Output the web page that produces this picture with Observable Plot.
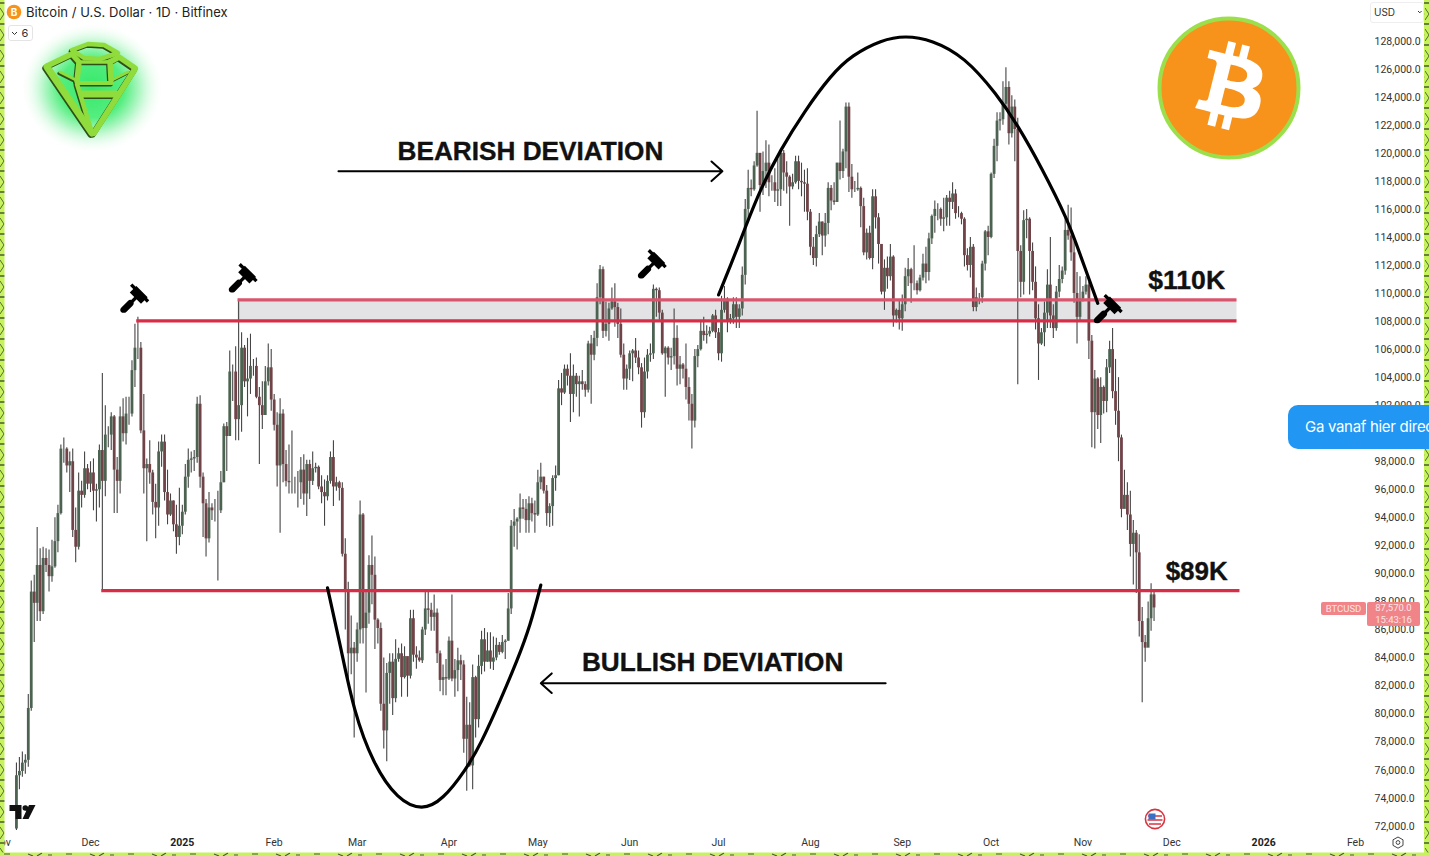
<!DOCTYPE html>
<html>
<head>
<meta charset="utf-8">
<script src="https://cdn.jsdelivr.net/npm/d3@7"></script>
<script src="https://cdn.jsdelivr.net/npm/@observablehq/plot@0.6"></script>
<style>
html,body{margin:0;padding:0;background:#fff;overflow:hidden}
#stage{position:relative;width:1429px;height:856px;overflow:hidden;font-family:Inter,"Liberation Sans",sans-serif}
#stage>*{position:absolute}
#chart{left:0;top:0}
#decor{left:0;top:0;pointer-events:none}
.hdr{left:26px;top:4px;font:13px/16px Inter,sans-serif;color:#222;white-space:nowrap;letter-spacing:.03px}
.pill{left:8px;top:25px;width:25px;height:16px;border:1px solid #e4e4e4;border-radius:3px;box-sizing:border-box;font:11px/14px Inter,sans-serif;color:#333;text-align:center}
.usd{left:1370px;top:2px;width:54px;height:21px;border:1px solid #eee;border-radius:3px;box-sizing:border-box;font:10px/19px Inter,sans-serif;color:#333;padding-left:3px}
.bubble{left:1288px;top:405px;width:150px;height:44px;background:#2196f3;border-radius:10px;color:#fff;font:15px/44px Inter,sans-serif;letter-spacing:-.3px;padding-left:17px;box-sizing:border-box;white-space:nowrap;overflow:hidden}
.tag{background:#f08489;color:#fde4e4;font:9.5px/12px Roboto,sans-serif;text-align:center;border-radius:2px}
</style>
</head>
<body>
<div id="stage">
<div id="chart"></div>
<svg id="decor" width="1429" height="856" viewBox="0 0 1429 856">
<defs>
<pattern id="bv" width="5" height="42" patternUnits="userSpaceOnUse">
<rect width="5" height="42" fill="#c6f25e"/>
<path d="M0 3h5M0 24h5" stroke="#4a5a2a" stroke-width="1.4"/>
<path d="M0 8l4 6-4 6M0 29l4 6-4 6" stroke="#4a5a2a" stroke-width=".9" fill="none"/>
</pattern>
<pattern id="bh" width="62" height="4" patternUnits="userSpaceOnUse">
<rect width="62" height="4" fill="#c6f25e"/>
<path d="M4 2h6M28 2l5 2M37 4l5-3M48 3h4" stroke="#4a5a2a" stroke-width="1.1"/>
</pattern>
<radialGradient id="glow">
<stop offset="0" stop-color="#35e86a"/>
<stop offset=".45" stop-color="#55ee80"/>
<stop offset=".7" stop-color="#c0f8d0"/>
<stop offset="1" stop-color="#ffffff" stop-opacity="0"/>
</radialGradient>
<g id="gem" fill="none" stroke-linejoin="round" stroke-linecap="round">
<path d="M72 50L88 44L104 45L118 53L100 59L84 58Z" stroke-width="4.5"/>
<path d="M47 66L72 54L79 62L77 81" stroke-width="5.5"/>
<path d="M135 68L119 57L110 62L111 80" stroke-width="5.5"/>
<path d="M79 62H108" stroke-width="3.5"/>
<path d="M77 83H112" stroke-width="4"/>
<path d="M47 67L92 133" stroke-width="7"/>
<path d="M77 84L92 133" stroke-width="4.5"/>
<path d="M135 69L94 133" stroke-width="6"/>
<path d="M82 94H116" stroke-width="7"/>
<path d="M60 72L76 80M112 80L128 72" stroke-width="3"/>
</g>
</defs>
<rect x="0" y="0" width="4.5" height="856" fill="url(#bv)"/>
<rect x="1424" y="0" width="5" height="856" fill="url(#bv)"/>
<rect x="0" y="852.5" width="1429" height="3.5" fill="url(#bh)"/>

<!-- coin in header -->
<circle cx="14" cy="12" r="7.3" fill="#f7931a"/>
<text x="14" y="15.5" fill="#fff" font-size="10" font-weight="700" text-anchor="middle" font-family="Inter">B</text>

<!-- diamond -->
<ellipse cx="92" cy="88" rx="72" ry="66" fill="url(#glow)"/>
<use href="#gem" stroke="#2f4f18" transform="translate(-1.2 1.4)"/>
<use href="#gem" stroke="#8fdc3c"/>

<!-- bitcoin logo -->
<circle cx="1229" cy="88" r="69.5" fill="#f7931a" stroke="#9be04c" stroke-width="4"/>
<g transform="translate(1229 88) scale(2.2) translate(-31 -32.5)">
<path fill="#fff" d="M46.11 27.441c.636-4.258-2.606-6.547-7.039-8.074l1.438-5.768-3.512-.875-1.4 5.616c-.922-.23-1.87-.447-2.812-.662l1.41-5.653-3.509-.875-1.439 5.766c-.764-.174-1.514-.346-2.242-.527l.004-.018-4.842-1.209-.934 3.75s2.605.597 2.55.634c1.422.355 1.68 1.296 1.636 2.042l-1.638 6.571c.098.025.225.061.365.117l-.371-.092-2.296 9.205c-.174.432-.615 1.08-1.609.834.035.051-2.552-.637-2.552-.637l-1.743 4.02 4.57 1.139c.85.213 1.683.436 2.502.646l-1.453 5.835 3.507.875 1.44-5.772c.957.26 1.887.5 2.797.726L27.504 50.8l3.511.875 1.453-5.823c5.987 1.133 10.49.676 12.383-4.738 1.527-4.36-.075-6.875-3.225-8.516 2.294-.531 4.022-2.04 4.483-5.157zM38.087 38.69c-1.086 4.36-8.426 2.004-10.807 1.412l1.928-7.729c2.38.594 10.011 1.77 8.88 6.317zm1.085-11.312c-.99 3.966-7.1 1.951-9.083 1.457l1.748-7.01c1.983.494 8.367 1.416 7.335 5.553z"/>
</g>

<!-- TradingView mark -->
<path d="M9.5 805H21.5V819H15.5V811H9.5Z M28.1 808a2.8 2.8 0 1 1-5.6 0a2.8 2.8 0 1 1 5.6 0Z M29 805H35.5L28.5 819H22.5Z" fill="#111"/>

<!-- flag -->
<circle cx="1155" cy="819" r="9.6" fill="#fff" stroke="#d8343f" stroke-width="1.6"/>
<path d="M1148 816h14M1147.5 820h15M1149 824h12" stroke="#d8343f" stroke-width="1.7"/>
<rect x="1148.5" y="813.5" width="7" height="6" fill="#3a6fc4"/>

<!-- settings -->
<path d="M1398 837l5 2.8v5.6l-5 2.8-5-2.8v-5.6Z" fill="none" stroke="#444" stroke-width="1"/>
<circle cx="1398" cy="842.5" r="1.9" fill="none" stroke="#444" stroke-width="1"/>

<!-- chevrons of the pill and USD box -->
<path d="M12 32l2.5 2.5L17 32" fill="none" stroke="#333" stroke-width="1"/>
<path d="M1418 11l1.8 1.8 1.8-1.8" fill="none" stroke="#333" stroke-width="1"/>
</svg>
<div class="hdr">Bitcoin / U.S. Dollar · 1D · Bitfinex</div>
<div class="pill"><span style="padding-left:9px">6</span></div>
<div class="usd">USD</div>
<div class="bubble">Ga vanaf hier direct</div>
<div class="tag" style="left:1321px;top:602px;width:45px;height:13px;line-height:13px">BTCUSD</div>
<div class="tag" style="left:1367px;top:602px;width:53px;height:24px;line-height:12px">87,570.0<br>15:43:16</div>
</div>
<script>
// Daily candles, in thousands of USD, one value per day from 6 Nov 2024 to 25 Nov 2025.
const firstDay = new Date(Date.UTC(2024, 10, 6));
const firstOpen = 71.8;
const closes = [
75.6,75.9,76.5,76.7,80.4,88.7,87.9,90.6,87.3,91.1,90.6,89.8,90.5,92.3,94.3,98.9,98.9,97.7,98.0,93.1,91.9,95.9,95.6,97.5,96.4,
97.2,95.9,96.0,98.8,96.6,99.9,99.9,101.2,97.4,96.6,101.2,100.0,101.4,101.4,104.5,106.1,106.1,100.2,97.5,97.8,97.2,95.1,94.7,98.7,99.4,95.8,94.2,95.2,93.5,92.6,93.4,
94.4,96.9,98.1,98.2,98.3,102.1,96.9,95.0,92.5,94.7,94.5,94.5,94.5,96.5,100.5,99.8,104.4,104.4,101.0,102.0,106.1,103.7,103.9,104.8,104.8,102.6,102.0,101.3,103.7,104.7,102.4,
100.6,97.7,101.4,97.8,96.6,96.5,96.5,96.5,96.5,97.4,95.7,97.8,96.6,97.5,97.6,96.2,95.8,95.5,96.6,98.3,96.2,96.5,96.1,91.4,88.7,84.3,84.7,84.3,
86.0,94.2,86.1,87.2,90.6,89.9,86.7,86.1,80.7,78.8,82.9,83.7,81.1,83.9,84.3,82.6,84.1,82.7,86.8,84.2,84.0,83.8,86.0,87.5,87.4,86.9,87.2,84.3,82.4,82.6,82.5,
85.2,82.5,83.1,83.8,83.5,78.2,79.2,76.3,82.6,79.6,83.4,85.3,83.7,84.5,83.7,84.0,84.9,84.4,85.1,85.2,87.5,93.4,93.7,93.9,94.7,94.6,93.8,95.0,94.3,94.2,
96.5,96.9,95.9,94.3,94.8,96.8,97.0,103.2,102.9,104.6,104.1,102.8,104.1,103.5,103.7,103.5,103.1,106.4,105.6,106.8,109.7,111.7,107.3,107.8,108.9,109.4,109.0,107.8,105.6,103.9,104.6,
105.7,105.9,105.4,104.7,101.5,104.4,105.6,105.7,110.3,110.2,108.6,105.7,106.1,105.4,105.5,106.8,104.6,104.9,104.6,103.3,102.1,100.9,105.5,106.0,107.3,107.0,107.1,107.3,108.4,107.2,
105.7,108.8,109.6,108.0,108.2,109.2,108.3,108.9,111.3,116.0,117.5,117.4,119.1,120.0,117.7,118.7,119.3,117.9,117.9,117.3,117.4,120.0,118.6,118.3,117.6,117.9,119.4,118.0,117.9,117.8,115.8,
113.3,112.5,114.2,115.1,114.1,115.0,117.5,116.6,116.5,119.3,118.7,120.1,123.3,118.3,117.4,117.4,117.5,116.2,112.9,114.3,112.5,116.9,115.4,113.5,110.1,111.8,111.2,112.6,108.4,108.8,108.2,
109.2,111.2,111.7,110.7,110.7,110.2,111.1,112.1,111.5,113.9,115.5,116.0,116.0,115.3,115.4,116.8,116.5,117.1,115.7,115.7,115.3,112.7,112.0,113.3,109.0,109.7,109.7,112.1,114.4,114.0,
118.5,120.5,122.3,122.4,123.5,124.7,121.4,123.3,121.7,113.0,110.8,115.2,115.3,113.0,110.8,108.2,106.4,107.2,108.6,110.6,108.4,107.5,110.1,111.0,111.6,114.5,114.1,112.9,110.0,108.3,109.6,
110.1,110.6,106.6,101.5,103.9,101.3,103.3,102.3,104.7,106.0,103.0,101.6,99.7,94.6,95.6,94.2,92.1,92.9,91.5,86.6,85.1,84.7,86.8,88.5,87.57
];
const highs = [
76.5,76.9,77.3,77.1,81.4,89.5,89.9,93.3,91.8,91.9,91.8,91.7,92.4,94.0,94.9,99.2,99.7,99.0,98.7,98.9,94.7,97.2,96.6,98.7,97.8,
98.0,98.2,96.4,99.2,104.3,102.0,100.5,101.5,101.3,98.3,101.9,102.5,102.6,102.6,105.2,107.8,108.3,106.5,102.8,98.2,99.5,97.4,96.4,99.4,99.9,99.9,97.4,95.7,95.2,94.9,96.1,
94.9,97.8,98.9,98.7,98.8,102.6,102.7,97.2,95.3,95.8,95.0,95.3,95.9,97.3,100.7,100.8,105.9,104.9,106.2,109.6,107.2,106.3,106.8,107.1,105.3,105.4,103.3,103.7,104.8,106.4,106.0,
102.8,101.5,102.5,101.7,98.8,99.2,100.2,96.9,97.3,98.3,98.5,98.1,98.1,98.7,97.9,97.7,97.0,96.7,97.0,98.7,99.5,96.9,96.6,96.5,92.5,89.4,87.0,85.1,
86.5,95.2,94.3,88.8,91.3,92.7,91.2,86.8,86.5,84.0,83.6,84.3,84.3,85.3,84.7,85.0,84.8,84.0,87.4,87.4,84.8,84.5,86.2,88.7,88.7,87.9,88.5,87.5,84.5,83.5,83.9,
85.5,88.5,83.9,84.7,84.2,83.8,81.2,80.8,83.5,82.7,84.2,85.9,86.1,85.8,85.8,85.5,85.4,85.1,85.6,85.3,88.6,93.8,94.6,94.0,95.7,95.3,95.3,95.5,95.4,95.2,
97.4,97.9,96.9,96.3,95.0,97.0,97.7,103.8,104.3,104.9,104.9,105.7,104.9,104.3,104.1,104.5,103.7,106.6,107.0,107.3,110.7,112.0,111.9,109.4,109.3,110.4,110.7,109.3,108.9,106.4,104.9,
105.9,106.0,106.8,105.9,105.0,105.4,106.0,106.4,110.6,110.4,110.4,108.8,106.2,106.2,106.1,108.9,107.7,105.5,105.0,106.4,104.0,102.8,106.0,106.3,108.1,108.3,107.7,107.6,108.5,108.8,
107.5,109.8,110.5,109.7,108.5,109.7,109.7,109.2,111.9,116.7,118.8,118.1,119.4,123.0,119.9,120.1,120.9,120.6,118.4,118.9,119.6,120.2,120.2,119.4,118.4,118.5,119.8,119.8,119.3,118.8,118.9,
116.0,114.0,114.8,115.7,115.1,115.7,117.9,117.7,117.9,119.3,122.3,120.3,123.6,123.6,119.2,118.0,118.6,117.6,116.8,114.6,114.8,117.4,117.4,115.7,113.5,112.4,112.6,113.5,112.7,108.9,109.5,
109.9,111.8,112.5,111.8,113.4,110.9,111.3,112.8,113.3,114.3,115.6,116.6,116.4,116.1,116.8,117.0,117.3,117.9,117.4,116.2,115.8,115.4,113.2,114.0,113.5,110.4,110.0,112.3,114.5,114.8,
118.6,121.0,122.9,122.9,125.1,126.1,125.1,124.1,123.8,122.5,113.4,115.9,116.0,115.4,113.6,111.9,109.2,107.5,109.4,111.7,114.0,109.2,110.5,112.0,111.9,115.5,116.3,116.1,113.7,111.5,111.2,
110.5,111.2,110.8,107.0,104.5,104.0,104.0,103.4,105.3,106.6,107.5,105.3,104.0,99.9,97.4,96.5,95.9,93.8,93.1,92.8,87.6,85.6,88.0,89.3,88.7
];
const lows = [
71.7,74.6,75.5,75.7,76.2,80.2,85.1,86.6,86.6,87.1,90.1,88.7,89.4,90.4,91.5,94.2,97.9,97.2,95.8,92.6,90.8,91.7,94.7,95.4,96.0,
95.8,94.5,93.7,94.7,88.8,95.5,99.0,98.8,94.3,94.3,95.7,99.4,99.2,100.6,101.2,103.3,105.3,100.0,95.7,92.3,96.4,94.2,92.5,93.4,97.6,95.2,93.5,94.1,93.0,91.4,92.0,
92.8,94.2,96.1,97.2,97.3,97.9,96.1,92.6,91.2,92.2,93.8,93.7,89.5,94.3,96.5,97.3,99.9,102.3,99.5,99.5,100.1,103.3,101.2,102.8,104.1,102.5,97.8,100.3,101.3,103.4,101.6,
100.2,96.2,92.9,96.5,96.2,95.7,95.7,95.7,94.7,95.3,94.9,94.1,95.3,96.3,97.2,96.0,95.0,93.4,95.2,96.4,94.8,95.9,95.2,91.2,86.0,82.3,82.8,78.3,
83.7,85.0,85.0,81.5,86.4,87.8,84.6,85.0,80.2,77.5,76.6,80.7,79.9,80.8,83.7,81.2,82.5,81.2,82.5,83.7,83.2,83.7,83.6,85.6,86.4,85.9,85.9,83.6,81.6,81.3,81.3,
82.4,82.3,81.2,81.6,82.4,77.2,74.5,76.2,74.6,78.3,79.0,82.8,83.0,83.7,83.2,83.1,83.8,84.2,84.3,83.9,85.2,87.1,91.9,91.7,92.9,93.9,92.9,92.9,93.7,92.9,
94.1,96.0,95.7,93.4,93.3,93.4,95.9,97.0,102.0,102.8,103.4,100.8,101.5,102.6,101.2,103.1,102.6,102.9,102.1,105.2,106.2,109.2,106.8,106.9,106.6,108.8,107.6,106.8,105.4,103.1,103.1,
103.8,103.7,105.0,104.2,100.4,101.1,103.9,105.1,105.3,108.3,108.1,105.6,102.6,104.9,104.5,104.9,103.4,103.5,103.9,102.4,100.9,98.9,100.4,104.7,105.9,106.6,106.4,106.9,107.2,106.8,
105.2,105.1,108.6,107.2,107.8,107.8,107.5,107.5,108.4,110.6,115.2,116.9,117.3,119.0,115.8,117.0,117.5,116.9,117.3,116.5,116.2,116.2,117.3,117.1,114.8,117.4,117.8,117.4,116.9,115.8,115.2,
112.7,112.0,111.9,114.0,112.7,113.3,114.2,115.9,116.3,116.5,118.1,118.2,118.9,117.2,116.8,117.2,117.3,114.7,112.7,112.4,112.4,111.7,114.6,112.1,109.9,108.8,110.3,110.9,107.6,107.9,107.4,
107.3,108.7,110.5,109.3,110.2,109.9,110.1,110.9,110.7,110.9,113.5,114.3,115.2,114.8,114.4,114.8,114.8,116.0,115.3,115.4,114.9,111.9,111.6,111.1,108.7,108.7,109.2,109.3,111.6,112.7,
113.9,118.2,119.4,121.6,122.0,123.1,120.6,121.1,119.4,103.5,109.7,109.9,113.9,109.9,110.2,107.4,103.8,106.3,106.2,107.5,107.5,106.8,107.3,109.7,110.7,111.3,113.8,112.3,109.3,106.4,108.0,
109.4,109.9,105.3,99.0,98.9,100.3,99.3,101.4,101.5,104.3,102.5,100.6,98.0,94.0,94.9,93.1,91.2,89.2,88.6,85.5,80.8,83.7,85.4,85.9,86.6
];

// Horizontal levels drawn on the chart (thousands of USD)
const levelHigh = 109.55, levelLow = 108.05, levelBottom = 88.8;
const levelHighStart = 49.8, levelLowStart = 15.6, levelBottomStart = 3.8, levelEnd = 387, levelBottomEnd = 388;

// Hand-drawn arcs: days since 1 Dec 2024, thousands of USD
const capDays = [212,217,221,226,233,241,250,257,267,275,284,295,306,313,321,330,334,340];
const capPrices = [109.9,112.5,114.7,117.4,120.3,123.0,125.6,127.0,128.1,128.4,128.1,126.9,124.2,122.0,119.0,115.2,112.8,109.3];
const cupDays = [80,84.4,88.8,95.5,103.6,112,119,126.6,131.6,138.4,144.1,148.5,152];
const cupPrices = [89.0,84.86,80.22,76.4,73.9,73.1,73.9,76.0,77.8,81.0,83.85,86.35,89.2];

// Annotations
const notes = [
  {text:"BEARISH DEVIATION", day:148.5, price:120.15, size:26.2},
  {text:"BULLISH DEVIATION", day:210, price:83.65, size:26.2},
  {text:"$110K", day:370, price:110.9, size:26.6},
  {text:"$89K", day:373.4, price:90.15, size:26}
];
const arrows = [
  {d1:83.7, d2:213.3, price:118.72},
  {d1:268.4, d2:152, price:82.2}
];
const hammerDays = [15,51.6,189.7,343.6];
const hammerPrices = [109.7,111.15,112.15,108.95];

// Axis ticks
const monthTicks = [[2024,10],[2024,11],[2025,1],[2025,2],[2025,3],[2025,4],[2025,5],[2025,6],[2025,7],[2025,8],[2025,9],[2025,10],[2025,11],[2026,1]];
const yearTicks = [[2025,0],[2026,0]];
const priceTicks = d3.range(72000, 128001, 2000).filter(v => v !== 100000);

const origin = new Date(Date.UTC(2024, 11, 1));
const day = n => new Date(+origin + n * 864e5);
const candles = closes.map((c, i) => ({
  date: d3.utcDay.offset(firstDay, i),
  open: (i ? closes[i - 1] : firstOpen) * 1000,
  close: c * 1000,
  high: highs[i] * 1000,
  low: lows[i] * 1000
}));
const UP = "#4b6350", DOWN = "#6f4347", WICK = "#454545";
const K = v => v * 1000;
const gavel = "data:image/svg+xml," + encodeURIComponent(
  '<svg xmlns="http://www.w3.org/2000/svg" viewBox="0 0 32 32"><g stroke="#000" fill="none">' +
  '<path d="M4 29L11 22" stroke-width="7" stroke-linecap="round"/>' +
  '<path d="M9 24L20 13" stroke-width="3.6"/>' +
  '<path d="M14 7L26 19" stroke-width="10"/>' +
  '<path d="M12 2L18 8M24 14L30 20" stroke-width="3.6"/></g></svg>');
const band = [{x1: day(levelHighStart), x2: day(levelEnd), y1: K(levelLow), y2: K(levelHigh)}];
const cap = capDays.map((d, i) => ({x: day(d), y: K(capPrices[i])}));
const cup = cupDays.map((d, i) => ({x: day(d), y: K(cupPrices[i])}));
const tickDate = ([y, m]) => new Date(Date.UTC(y, m, 1));
const axisFont = {fontSize: 10.5, fontFamily: "Roboto, sans-serif"};

const plot = Plot.plot({
  width: 1429, height: 856,
  marginTop: 0, marginLeft: 0, marginRight: 57, marginBottom: 26,
  style: {background: "transparent", overflow: "hidden", fontFamily: "Roboto, sans-serif"},
  x: {type: "utc", domain: [origin, day(427)], range: [90, 1355], axis: null},
  y: {type: "linear", domain: [72000, 128000], range: [825.7, 40.7], axis: null},
  marks: [
    Plot.rect(band, {x1:"x1", x2:"x2", y1:"y1", y2:"y2", fill:"#e3e3e5"}),
    Plot.ruleX(candles, {x:"date", y1:"low", y2:"high", stroke:WICK, strokeWidth:1.1}),
    Plot.ruleX(candles, {x:"date", y1:"open", y2:"close", strokeWidth:2.8, stroke:d => d.close >= d.open ? UP : DOWN}),
    Plot.ruleY([K(levelHigh)], {x1:day(levelHighStart), x2:day(levelEnd), stroke:"#d8566d", strokeWidth:3.3}),
    Plot.ruleY([K(levelLow)], {x1:day(levelLowStart), x2:day(levelEnd), stroke:"#d92c47", strokeWidth:3.3}),
    Plot.ruleY([K(levelBottom)], {x1:day(levelBottomStart), x2:day(levelBottomEnd), stroke:"#d92c47", strokeWidth:3.3}),
    Plot.line(cap, {x:"x", y:"y", curve:"basis", stroke:"#000", strokeWidth:3.2}),
    Plot.line(cup, {x:"x", y:"y", curve:"basis", stroke:"#000", strokeWidth:3.2}),
    Plot.arrow(arrows, {x1:d => day(d.d1), x2:d => day(d.d2), y1:d => K(d.price), y2:d => K(d.price), stroke:"#000", strokeWidth:2, headAngle:84, headLength:11, bend:0}),
    Plot.text(notes, {x:d => day(d.day), y:d => K(d.price), text:"text", fontSize:"size", fontWeight:700, fontFamily:"Liberation Sans, sans-serif", fill:"#111", stroke:"#111", strokeWidth:0.35}),
    Plot.image(hammerDays, {x:d => day(d), y:(d, i) => K(hammerPrices[i]), src:gavel, width:30, height:30}),
    Plot.axisY({anchor:"right", ticks:priceTicks, tickSize:0, tickPadding:2, tickFormat:d3.format(",.1f"), textAnchor:"start", fill:"#333", ...axisFont}),
    Plot.axisX({anchor:"bottom", ticks:monthTicks.map(tickDate), tickSize:0, tickPadding:8, tickFormat:d3.utcFormat("%b"), fill:"#333", ...axisFont}),
    Plot.axisX({anchor:"bottom", ticks:yearTicks.map(tickDate), tickSize:0, tickPadding:8, tickFormat:d3.utcFormat("%Y"), fill:"#222", fontWeight:700, ...axisFont})
  ]
});
document.getElementById("chart").appendChild(plot);
</script>
</body>
</html>
